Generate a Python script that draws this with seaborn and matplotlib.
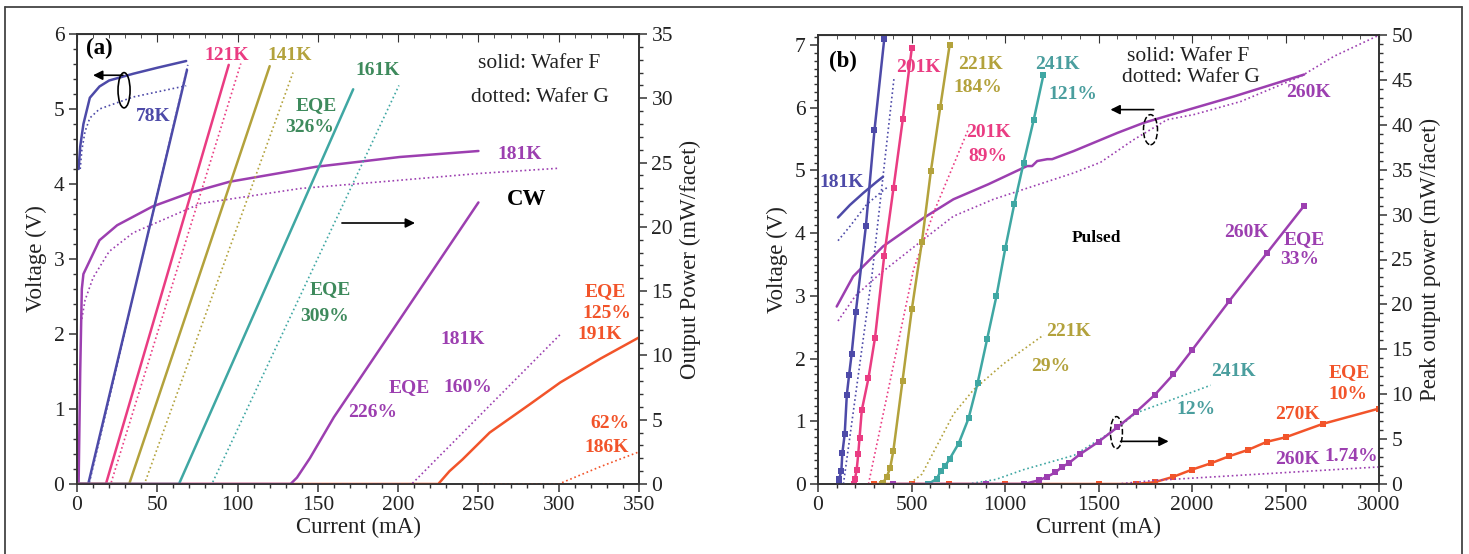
import numpy as np
import pandas as pd
import seaborn as sns
import matplotlib.pyplot as plt
from matplotlib.patches import Ellipse
from matplotlib.lines import Line2D
from matplotlib.ticker import MultipleLocator

sns.set_style("ticks")
plt.rcParams['font.family'] = ['Liberation Serif', 'DejaVu Serif']

BLUE = '#4d4aa8'
PINK = '#ea3c82'
OLIVE = '#b3a23c'
TEAL = '#3fa7a3'
PURPLE = '#9c3fb0'
RED = '#f2542a'
GREEN = '#3e8a5c'
TEAL_TXT = '#4a9e9e'

# ---------------- panel (a): CW ----------------
# voltage (V) vs current (mA)
a_v78F_I = [1, 2, 4, 8, 14, 20, 35, 50, 68]
a_v78F_V = [4.2, 4.5, 4.8, 5.15, 5.3, 5.38, 5.47, 5.55, 5.64]
a_v78G_I = [2, 3, 5, 8, 14, 35, 68]
a_v78G_V = [4.2, 4.45, 4.7, 4.88, 5.0, 5.16, 5.31]
a_v181F_I = [1, 2, 3, 4, 14, 25, 47, 70, 95, 149, 201, 250]
a_v181F_V = [0, 1.5, 2.6, 2.8, 3.25, 3.45, 3.7, 3.88, 4.03, 4.23, 4.36, 4.44]
a_v181G_I = [3, 5, 10, 20, 35, 77, 139, 201, 250, 300]
a_v181G_V = [2.2, 2.45, 2.75, 3.1, 3.35, 3.74, 3.94, 4.05, 4.14, 4.21]

# output power (mW/facet) vs current (mA)
a_p78F_I, a_p78F_P = [0, 7, 68.5], [0, 0, 32.2]
a_p78G_I, a_p78G_P = [0, 7.5, 69], [0, 0, 32.6]
a_p121F_I, a_p121F_P = [0, 18, 94.5], [0, 0, 32.6]
a_p121G_I, a_p121G_P = [0, 21, 102], [0, 0, 32.7]
a_p141F_I, a_p141F_P = [0, 32.5, 120], [0, 0, 32.5]
a_p141G_I, a_p141G_P = [0, 42, 134.5], [0, 0, 32.0]
a_p161F_I, a_p161F_P = [0, 63.5, 172], [0, 0, 30.7]
a_p161G_I, a_p161G_P = [0, 84, 200.5], [0, 0, 31.0]
a_p181F_I = [0, 133, 137, 145, 160, 201, 250]
a_p181F_P = [0, 0, 0.5, 2.0, 5.2, 12.8, 21.9]
a_p181G_I, a_p181G_P = [0, 208.5, 300.7], [0, 0, 11.6]
a_p191F_I = [0, 225, 232, 240, 257, 282, 301, 326, 350]
a_p191F_P = [0, 0, 1.0, 1.9, 4.0, 6.2, 7.9, 9.75, 11.4]
a_p186G_I, a_p186G_P = [250, 300, 326, 350], [0, 0, 1.35, 2.5]

# ---------------- panel (b): pulsed ----------------
b_v181F_I = [107, 171, 242, 314, 348]
b_v181F_V = [4.25, 4.45, 4.64, 4.82, 4.9]
b_v181G_I = [107, 171, 261, 332, 370]
b_v181G_V = [3.88, 4.11, 4.46, 4.64, 4.73]
b_v260F_I = [100, 188, 348, 563, 724, 911, 1118, 1145, 1172, 1226, 1252, 1368,
             1602, 1742, 1924, 2224, 2600]
b_v260F_V = [2.83, 3.31, 3.79, 4.24, 4.54, 4.78, 5.07, 5.07, 5.15, 5.18, 5.18, 5.31,
             5.6, 5.76, 5.92, 6.18, 6.53]
b_v260G_I = [107, 200, 330, 564, 724, 938, 1152, 1367, 1511, 1688, 1867, 2009,
             2261, 2582, 2759, 2995]
b_v260G_V = [2.6, 3.0, 3.35, 3.9, 4.27, 4.54, 4.75, 4.96, 5.13, 5.49, 5.81, 5.89,
             6.1, 6.5, 6.82, 7.15]

# peak output power (mW/facet), solid lines with square markers
b_p181F_I = [110, 114, 125, 130, 143, 154, 166, 180, 202, 256, 302, 354]
b_p181F_P = [0, 0.6, 1.5, 3.4, 5.6, 9.9, 12.1, 14.5, 19.1, 28.7, 39.4, 49.5]
b_p201F_I = [190, 198, 207, 215, 222, 234, 270, 305, 354, 404, 454, 502]
b_p201F_P = [0, 0.6, 1.6, 3.3, 5.1, 8.2, 11.8, 16.3, 25.4, 33.0, 40.7, 48.6]
b_p221F_I = [340, 346, 368, 386, 403, 452, 502, 556, 604, 654, 704]
b_p221F_P = [0, 0.1, 0.8, 1.8, 3.7, 11.5, 19.5, 27.0, 34.9, 42.0, 48.9]
b_p241F_I = [590, 636, 657, 680, 704, 752, 805, 853, 904, 954, 1002, 1050, 1100, 1153, 1205]
b_p241F_P = [0, 0.6, 1.5, 2.0, 2.8, 4.5, 7.3, 11.2, 16.1, 20.9, 26.3, 31.2, 35.8, 40.5, 45.5]
b_p260F_I = [400, 900, 1100, 1180, 1225, 1270, 1305, 1340, 1400, 1500, 1600, 1700,
             1800, 1900, 2000, 2200, 2400, 2600]
b_p260F_P = [0, 0, 0, 0.4, 0.8, 1.3, 1.9, 2.3, 3.3, 4.7, 6.3, 8.0,
             9.9, 12.2, 14.9, 20.4, 25.7, 31.0]
b_p270F_I = [300, 500, 700, 1000, 1500, 1700, 1800, 1900, 2000, 2100, 2200, 2300,
             2400, 2500, 2700, 3000]
b_p270F_P = [0, 0, 0, 0, 0, 0, 0.2, 0.8, 1.6, 2.3, 3.1, 3.8,
             4.7, 5.2, 6.7, 8.4]
# dotted (wafer G)
b_p181G_I, b_p181G_P = [136, 290, 407], [0, 23.5, 45.3]
b_p201G_I, b_p201G_P = [270, 511, 618, 802], [0, 23.9, 30.2, 39.4]
b_p221G_I, b_p221G_P = [493, 556, 725, 832, 993, 1207], [0.1, 1.1, 7.8, 10.5, 13.4, 16.6]
b_p241G_I, b_p241G_P = [800, 950, 1100, 1370, 1600, 1700, 2100], [0, 0.5, 1.6, 3.2, 6.2, 7.9, 11.0]
b_p260G_I, b_p260G_P = [1600, 1800, 2200, 2600, 3000], [0, 0.4, 0.9, 1.4, 1.9]

W, H = 1469, 554
fig = plt.figure(figsize=(W / 100, H / 100), dpi=100)

LAB = 16.5
TICK = 15.5
ANN = 14


def line(ax, x, y, color, dotted=False, marker=None):
    sns.lineplot(x=x, y=y, ax=ax, color=color, estimator=None, sort=False,
                 linestyle=':' if dotted else '-', lw=1.2 if dotted else 1.8,
                 marker=marker, markersize=4, markeredgewidth=0, legend=False)


def style_axes(ax, axr, xmaj, xmin, ymaj, ymin, rmaj, rmin):
    for a in (ax, axr):
        for s in a.spines.values():
            s.set_color('#333333')
            s.set_linewidth(1.2)
            s.set_visible(True)
    ax.xaxis.set_major_locator(MultipleLocator(xmaj))
    ax.xaxis.set_minor_locator(MultipleLocator(xmin))
    ax.yaxis.set_major_locator(MultipleLocator(ymaj))
    ax.yaxis.set_minor_locator(MultipleLocator(ymin))
    axr.yaxis.set_major_locator(MultipleLocator(rmaj))
    axr.yaxis.set_minor_locator(MultipleLocator(rmin))
    for a in (ax, axr):
        a.tick_params(which='major', direction='out', length=6, width=1.1, pad=3,
                      labelsize=TICK, colors='#333333', labelcolor='#222222')
        a.tick_params(which='minor', direction='out', length=3, width=1.0, colors='#333333')
    sec = ax.secondary_xaxis('top')
    sec.xaxis.set_major_locator(MultipleLocator(xmaj))
    sec.xaxis.set_minor_locator(MultipleLocator(xmin))
    sec.tick_params(which='both', direction='in', labeltop=False, colors='#333333')
    sec.tick_params(which='major', length=6)
    sec.tick_params(which='minor', length=3)
    sec.spines['top'].set_color('#333333')


def txt(axr, ax, x, y, s, color, size=ANN, weight='bold', ha='center'):
    axr.text(x, y, s, color=color, fontsize=size, fontweight=weight, ha=ha, va='center',
             transform=ax.transData)


def arrow(axr, ax, x0, x1, y, ls='-'):
    axr.annotate('', xy=(x1, y), xytext=(x0, y), xycoords=ax.transData,
                 textcoords=ax.transData,
                 arrowprops=dict(arrowstyle='-|>', color='black', lw=1.2,
                                 mutation_scale=14, shrinkA=0, shrinkB=0, linestyle=ls))


# ---------- panel (a) ----------
ax = fig.add_axes([77 / W, 1 - 484 / H, (639 - 77) / W, (484 - 34) / H])
axr = ax.twinx()

line(ax, a_v78F_I, a_v78F_V, BLUE)
line(ax, a_v78G_I, a_v78G_V, BLUE, dotted=True)
line(ax, a_v181F_I, a_v181F_V, PURPLE)
line(ax, a_v181G_I, a_v181G_V, PURPLE, dotted=True)

line(axr, a_p191F_I, a_p191F_P, RED)
line(axr, a_p186G_I, a_p186G_P, RED, dotted=True)
line(axr, a_p78F_I, a_p78F_P, BLUE)
line(axr, a_p78G_I, a_p78G_P, BLUE, dotted=True)
line(axr, a_p121F_I, a_p121F_P, PINK)
line(axr, a_p121G_I, a_p121G_P, PINK, dotted=True)
line(axr, a_p141F_I, a_p141F_P, OLIVE)
line(axr, a_p141G_I, a_p141G_P, OLIVE, dotted=True)
line(axr, a_p161F_I, a_p161F_P, TEAL)
line(axr, a_p161G_I, a_p161G_P, TEAL, dotted=True)
line(axr, a_p181F_I, a_p181F_P, PURPLE)
line(axr, a_p181G_I, a_p181G_P, PURPLE, dotted=True)

ax.set_xlim(0, 350)
ax.set_ylim(0, 6)
axr.set_ylim(0, 35)
style_axes(ax, axr, 50, 10, 1, 0.2, 5, 1)
ax.set_xlabel('Current (mA)', fontsize=LAB, labelpad=1, color='#222222')
ax.set_ylabel('Voltage (V)', fontsize=LAB, labelpad=5, color='#222222')
axr.set_ylabel('Output Power (mW/facet)', fontsize=LAB, labelpad=5, color='#222222')

txt(axr, ax, 5.5, 5.81, '(a)', 'black', size=16.5, ha='left')
txt(axr, ax, 93.4, 5.72, '121K', PINK)
txt(axr, ax, 132.6, 5.72, '141K', OLIVE)
txt(axr, ax, 187, 5.52, '161K', GREEN)
txt(axr, ax, 149, 5.05, 'EQE', GREEN)
txt(axr, ax, 145, 4.75, '326%', GREEN)
txt(axr, ax, 47.3, 4.9, '78K', BLUE)
txt(axr, ax, 288, 5.61, 'solid: Wafer F', '#222222', weight='normal', size=15.5)
txt(axr, ax, 288, 5.16, 'dotted: Wafer G', '#222222', weight='normal', size=15.5)
txt(axr, ax, 276, 4.39, '181K', PURPLE)
txt(axr, ax, 280, 3.79, 'CW', 'black', size=16.5)
txt(axr, ax, 157.5, 2.59, 'EQE', GREEN)
txt(axr, ax, 154.4, 2.23, '309%', GREEN)
txt(axr, ax, 240, 1.92, '181K', PURPLE)
txt(axr, ax, 207, 1.29, 'EQE', PURPLE)
txt(axr, ax, 243.5, 1.29, '160%', PURPLE)
txt(axr, ax, 184, 0.95, '226%', PURPLE)
txt(axr, ax, 329, 2.56, 'EQE', RED)
txt(axr, ax, 330, 2.28, '125%', RED)
txt(axr, ax, 325.6, 1.99, '191K', RED)
txt(axr, ax, 332, 0.81, '62%', RED)
txt(axr, ax, 330, 0.49, '186K', RED)
axr.add_patch(Ellipse((29.3, 5.25), 7.5, 0.47, transform=ax.transData, fill=False,
                      lw=1.2, color='black'))
arrow(axr, ax, 28.6, 10, 5.45)
arrow(axr, ax, 165, 210.5, 3.48)

# ---------- panel (b) ----------
bx = fig.add_axes([818 / W, 1 - 484 / H, (1379 - 818) / W, (484 - 35) / H])
bxr = bx.twinx()

line(bx, b_v181F_I, b_v181F_V, BLUE)
line(bx, b_v181G_I, b_v181G_V, BLUE, dotted=True)
line(bx, b_v260F_I, b_v260F_V, PURPLE)
line(bx, b_v260G_I, b_v260G_V, PURPLE, dotted=True)

line(bxr, b_p270F_I, b_p270F_P, RED, marker='s')
line(bxr, b_p260G_I, b_p260G_P, PURPLE, dotted=True)
line(bxr, b_p241G_I, b_p241G_P, TEAL, dotted=True)
line(bxr, b_p221G_I, b_p221G_P, OLIVE, dotted=True)
line(bxr, b_p201G_I, b_p201G_P, PINK, dotted=True)
line(bxr, b_p181G_I, b_p181G_P, BLUE, dotted=True)
line(bxr, b_p181F_I, b_p181F_P, BLUE, marker='s')
line(bxr, b_p201F_I, b_p201F_P, PINK, marker='s')
line(bxr, b_p221F_I, b_p221F_P, OLIVE, marker='s')
line(bxr, b_p241F_I, b_p241F_P, TEAL, marker='s')
line(bxr, b_p260F_I, b_p260F_P, PURPLE, marker='s')

bx.set_xlim(0, 3000)
bx.set_ylim(0, 7.16)
bxr.set_ylim(0, 50)
style_axes(bx, bxr, 500, 100, 1, 0.125, 5, 1)
bx.set_xlabel('Current (mA)', fontsize=LAB, labelpad=1, color='#222222')
bx.set_ylabel('Voltage (V)', fontsize=LAB, labelpad=5, color='#222222')
bxr.set_ylabel('Peak output power (mW/facet)', fontsize=LAB, labelpad=5, color='#222222')

txt(bxr, bx, 60, 6.74, '(b)', 'black', size=16.5, ha='left')
txt(bxr, bx, 536, 6.64, '201K', PINK)
txt(bxr, bx, 868, 6.69, '221K', OLIVE)
txt(bxr, bx, 852, 6.32, '184%', OLIVE)
txt(bxr, bx, 1280, 6.69, '241K', TEAL_TXT)
txt(bxr, bx, 1361, 6.21, '121%', TEAL_TXT)
txt(bxr, bx, 1977, 6.82, 'solid: Wafer F', '#222222', weight='normal', size=15.5)
txt(bxr, bx, 1993, 6.48, 'dotted: Wafer G', '#222222', weight='normal', size=15.5)
txt(bxr, bx, 2620, 6.24, '260K', PURPLE)
txt(bxr, bx, 911, 5.61, '201K', PINK)
txt(bxr, bx, 911, 5.22, '89%', PINK)
txt(bxr, bx, 129, 4.81, '181K', BLUE)
txt(bxr, bx, 1489, 3.93, 'Pulsed', 'black', size=12.5)
txt(bxr, bx, 2290, 4.01, '260K', PURPLE)
txt(bxr, bx, 2598, 3.9, 'EQE', PURPLE)
txt(bxr, bx, 2577, 3.58, '33%', PURPLE)
txt(bxr, bx, 1339, 2.43, '221K', OLIVE)
txt(bxr, bx, 1243, 1.87, '29%', OLIVE)
txt(bxr, bx, 2223, 1.79, '241K', TEAL_TXT)
txt(bxr, bx, 2020, 1.19, '12%', TEAL_TXT)
txt(bxr, bx, 2839, 1.78, 'EQE', RED)
txt(bxr, bx, 2834, 1.43, '10%', RED)
txt(bxr, bx, 2566, 1.11, '270K', RED)
txt(bxr, bx, 2566, 0.39, '260K', PURPLE)
txt(bxr, bx, 2850, 0.44, '1.74%', PURPLE)
bxr.add_patch(Ellipse((1778, 5.65), 75, 0.48, transform=bx.transData, fill=False,
                      lw=1.1, ls='--', color='black'))
bxr.add_patch(Ellipse((1596, 0.82), 64, 0.51, transform=bx.transData, fill=False,
                      lw=1.1, ls='--', color='black'))
arrow(bxr, bx, 1795, 1564, 5.97)
arrow(bxr, bx, 1618, 1875, 0.68)

# outer frame (top, left, right)
fr = dict(color='#444444', lw=1.3, transform=fig.transFigure)
fig.add_artist(Line2D([5 / W, 1462 / W], [1 - 7 / H, 1 - 7 / H], **fr))
fig.add_artist(Line2D([5 / W, 5 / W], [0, 1 - 7 / H], **fr))
fig.add_artist(Line2D([1462 / W, 1462 / W], [0, 1 - 7 / H], **fr))

fig.savefig('out.png', dpi=100)
